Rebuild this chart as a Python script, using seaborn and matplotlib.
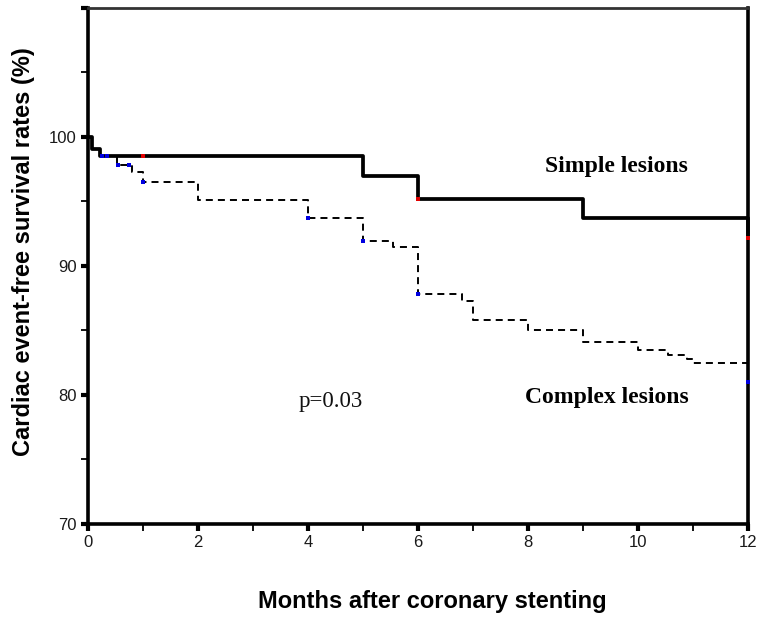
import matplotlib
matplotlib.use("Agg")
import matplotlib.pyplot as plt
import seaborn as sns
import pandas as pd

# Kaplan-Meier step estimates (months, % event-free)
simple_months = [0, 0.07, 0.22, 5, 6, 9, 12]
simple_surv = [100, 99.1, 98.5, 97.0, 95.2, 93.7, 92.2]

complex_months = [0, 0.07, 0.22, 0.53, 0.8, 1.0, 2, 4, 5, 5.55, 6, 6.8, 7,
                  8, 9, 10, 10.55, 10.9, 11, 12]
complex_surv = [100, 99.1, 98.5, 97.8, 97.3, 96.5, 95.1, 93.7, 91.9, 91.5,
                87.8, 87.3, 85.8, 85.0, 84.1, 83.5, 83.1, 82.8, 82.5, 81.0]

# censoring marks
simple_cens_months = [1, 6, 12]
simple_cens_surv = [98.5, 95.2, 92.2]
complex_cens_months = [0.25, 0.35, 0.55, 0.75, 1.0, 4, 5, 6, 12]
complex_cens_surv = [98.5, 98.5, 97.8, 97.8, 96.5, 93.7, 91.9, 87.8, 81.0]

x_ticks = [0, 2, 4, 6, 8, 10, 12]
y_ticks = [70, 80, 90, 100, 110]
y_tick_labels = ["70", "80", "90", "100", ""]

sns.set_theme(style="white")
plt.rcParams["font.family"] = ["Liberation Sans", "DejaVu Sans"]

fig = plt.figure(figsize=(7.61, 6.19), dpi=100)
ax = fig.add_axes([0.1156, 0.1535, 0.8673, 0.8336])

simple_df = pd.DataFrame({"month": simple_months, "surv": simple_surv})
complex_df = pd.DataFrame({"month": complex_months, "surv": complex_surv})

sns.lineplot(data=complex_df, x="month", y="surv", ax=ax, color="black",
             linewidth=1.4, linestyle=(0, (3.6, 2.6)), drawstyle="steps-post",
             estimator=None, clip_on=False)
sns.lineplot(data=simple_df, x="month", y="surv", ax=ax, color="black",
             linewidth=2.7, drawstyle="steps-post", estimator=None,
             clip_on=False)

sns.scatterplot(x=simple_cens_months, y=simple_cens_surv, ax=ax,
                color="#e00000", marker="s", s=6, linewidth=0, zorder=5,
                clip_on=False)
sns.scatterplot(x=complex_cens_months, y=complex_cens_surv, ax=ax,
                color="#0000e0", marker="s", s=6, linewidth=0, zorder=5,
                clip_on=False)

ax.set_xlim(0, 12)
ax.set_ylim(70, 110)
ax.set_xticks(x_ticks)
ax.set_xticks([1, 3, 5, 7, 9, 11], minor=True)
ax.set_yticks(y_ticks)
ax.set_yticklabels(y_tick_labels)
ax.set_yticks([75, 85, 95, 105], minor=True)

ax.tick_params(axis="both", which="major", direction="out", length=5,
               width=3, color="black", labelsize=12, pad=3,
               bottom=True, left=True, labelcolor="#1a1a1a")
ax.tick_params(axis="both", which="minor", direction="out", length=5,
               width=1.3, color="black", bottom=True, left=True)

for side in ["left", "right", "bottom"]:
    ax.spines[side].set_color("black")
    ax.spines[side].set_linewidth(2.6)
ax.spines["top"].set_color("#333333")
ax.spines["top"].set_linewidth(2.0)

ax.set_xlabel("Months after coronary stenting", fontsize=17,
              fontweight="bold", color="black")
ax.set_ylabel("Cardiac event-free survival rates (%)", fontsize=17,
              fontweight="bold", color="black")
ax.xaxis.set_label_coords(0.521, -0.128)
ax.yaxis.set_label_coords(-0.080, 0.527)

serif = ["Liberation Serif", "DejaVu Serif"]
ax.text(9.6, 97.7, "Simple lesions", family=serif, fontweight="bold",
        fontsize=17, ha="center", va="center", color="black")
ax.text(9.44, 79.8, "Complex lesions", family=serif, fontweight="bold",
        fontsize=17, ha="center", va="center", color="black")
ax.text(4.42, 79.5, "p=0.03", family=serif, fontsize=16.5,
        ha="center", va="center", color="#111111")

fig.savefig("out.png", dpi=100)
